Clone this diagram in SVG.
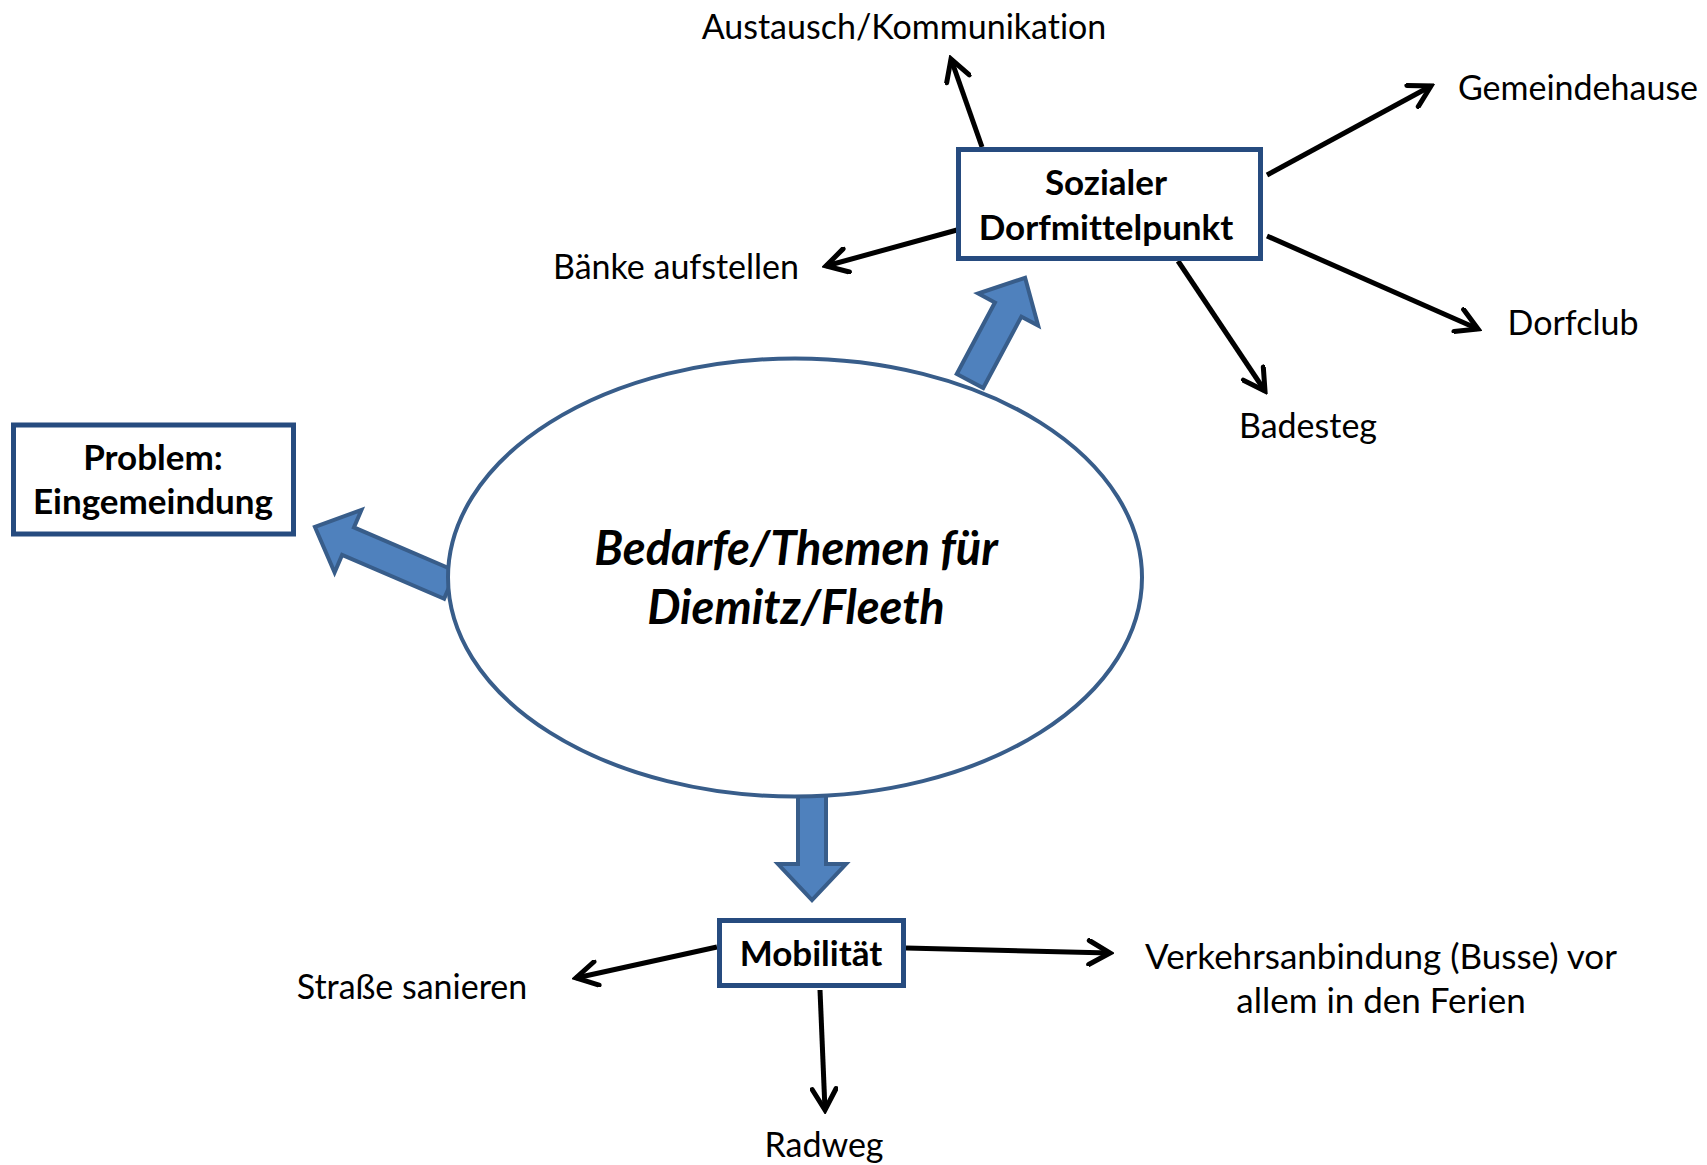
<svg xmlns="http://www.w3.org/2000/svg" width="1707" height="1165" viewBox="0 0 1707 1165">
<style>
text{font-variant-ligatures:none;font-feature-settings:"liga" 0,"dlig" 0}
.lbl{font-family:Lato,"Open Sans","Liberation Sans",sans-serif;font-size:34px;fill:#000;text-anchor:middle}
.bx{font-family:Lato,"Open Sans","Liberation Sans",sans-serif;font-size:35px;font-weight:bold;fill:#000;text-anchor:middle}
.ell{font-family:Lato,"Open Sans","Liberation Sans",sans-serif;font-size:47px;font-weight:bold;font-style:italic;fill:#000;text-anchor:middle}
.box{fill:#fff;stroke:#264b7f;stroke-width:5}
.blk{fill:#4F81BD;stroke:#385D8A;stroke-width:4;stroke-linejoin:miter}
.con{stroke:#000;stroke-width:5;fill:none;marker-end:url(#chev)}
</style>
<defs>
<marker id="chev" viewBox="0 -14 28 28" refX="24" refY="0" markerWidth="28" markerHeight="28" markerUnits="userSpaceOnUse" orient="auto">
<path d="M3,-12 L24,0 L3,12" fill="none" stroke="#000" stroke-width="5" stroke-linecap="round"/>
</marker>
</defs>
<rect width="1707" height="1165" fill="#fff"/>
<g id="block-arrows">
<path class="blk" transform="translate(970,381) rotate(-61.9)" d="M0,-15 L81,-15 L81,-34 L117,0 L81,34 L81,15 L0,15 Z"/>
<path class="blk" transform="translate(450,585) rotate(203.25)" d="M0,-15 L111,-15 L111,-34 L147,0 L111,34 L111,15 L0,15 Z"/>
<path class="blk" transform="translate(812,793) rotate(90)" d="M0,-14 L71,-14 L71,-34 L107,0 L71,34 L71,14 L0,14 Z"/>
</g>
<g id="center">
<ellipse cx="795" cy="577.5" rx="347" ry="219" fill="#fff" stroke="#385D8A" stroke-width="4"/>
<text class="ell" x="796" y="565">Bedarfe/Themen für</text>
<text class="ell" x="796" y="624">Diemitz/Fleeth</text>
</g>
<g id="connectors">
<line class="con" x1="982" y1="147" x2="951" y2="59"/>
<line class="con" x1="1267" y1="175" x2="1431" y2="86"/>
<line class="con" x1="1267" y1="236" x2="1478" y2="329"/>
<line class="con" x1="1178" y1="261" x2="1265" y2="391"/>
<line class="con" x1="957" y1="230" x2="826" y2="266"/>
<line class="con" x1="717" y1="947" x2="576" y2="978"/>
<line class="con" x1="906" y1="948" x2="1110" y2="953"/>
<line class="con" x1="820" y1="990" x2="825" y2="1110"/>
</g>
<g id="node-sozialer">
<rect class="box" x="958.5" y="149.5" width="302" height="109"/>
<text class="bx" x="1106" y="195">Sozialer</text>
<text class="bx" x="1106" y="240">Dorfmittelpunkt</text>
</g>
<g id="node-problem">
<rect class="box" x="13.5" y="425" width="280" height="109"/>
<text class="bx" x="153" y="470">Problem:</text>
<text class="bx" x="153" y="514">Eingemeindung</text>
</g>
<g id="node-mobilitaet">
<rect class="box" x="719.5" y="920.5" width="184" height="65"/>
<text class="bx" x="811" y="966">Mobilität</text>
</g>
<g id="labels">
<text id="lbl-austausch" class="lbl" x="904" y="39">Austausch/Kommunikation</text>
<text id="lbl-gemeindehause" class="lbl" x="1578" y="100">Gemeindehause</text>
<text id="lbl-dorfclub" class="lbl" x="1573" y="335">Dorfclub</text>
<text id="lbl-badesteg" class="lbl" x="1308" y="438">Badesteg</text>
<text id="lbl-baenke" class="lbl" x="676" y="279">Bänke aufstellen</text>
<text id="lbl-strasse" class="lbl" x="412" y="999">Straße sanieren</text>
<text id="lbl-radweg" class="lbl" x="824" y="1157">Radweg</text>
<text id="lbl-verkehr" class="lbl" x="1381" y="969" style="font-size:35px">Verkehrsanbindung (Busse) vor<tspan x="1381" y="1013">allem in den Ferien</tspan></text>
</g>
</svg>
